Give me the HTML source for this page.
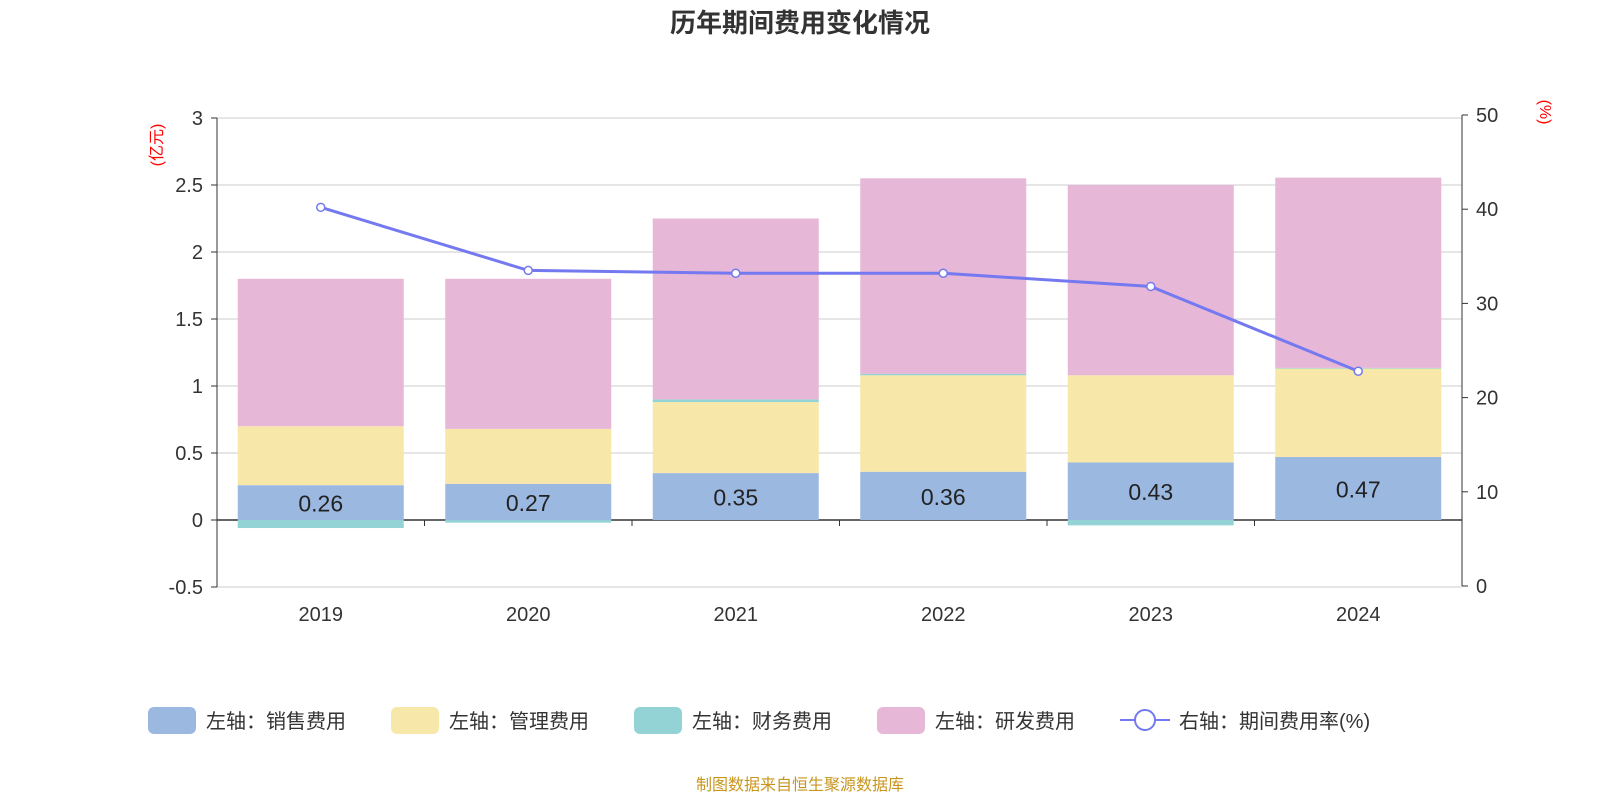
<!DOCTYPE html>
<html><head><meta charset="utf-8"><style>
body{margin:0;background:#fff;}
svg text{font-family:"Liberation Sans","Noto Sans CJK SC",sans-serif;}
</style></head><body>
<svg id="c" width="1600" height="800" xmlns="http://www.w3.org/2000/svg">
<text x="800" y="32" text-anchor="middle" font-size="26" font-weight="bold" fill="#333">历年期间费用变化情况</text>
<text transform="translate(162,145) rotate(-90)" text-anchor="middle" font-size="16" fill="red">(亿元)</text>
<text transform="translate(1540,112) rotate(90)" text-anchor="middle" font-size="16" fill="red">(%)</text>
<g id="grid"></g><g id="bars"></g><g id="axes"></g><g id="line"></g>
<g id="legend" font-size="20" fill="#333"></g>
<text x="800" y="790" text-anchor="middle" font-size="16" fill="#c8961e">制图数据来自恒生聚源数据库</text>
</svg>
<script>
const years=["2019","2020","2021","2022","2023","2024"];
const sales=[0.26,0.27,0.35,0.36,0.43,0.47];
const mgmt=[0.44,0.41,0.53,0.72,0.65,0.66];
const fin=[-0.06,-0.02,0.02,0.01,-0.04,0.005];
const rd=[1.10,1.12,1.35,1.46,1.42,1.42];
const rate=[40.2,33.5,33.2,33.2,31.8,22.8];
const leftTicks=[-0.5,0,0.5,1,1.5,2,2.5,3];
const rightTicks=[0,10,20,30,40,50];
const NS="http://www.w3.org/2000/svg";
const X0=217,X1=1462,band=(X1-X0)/6,bw=166;
const yL=v=>520-v*134;
const yR=v=>586-v*9.42;
const xc=i=>X0+band*(i+0.5);
function mk(t,a,p){const e=document.createElementNS(NS,t);for(const k in a)e.setAttribute(k,a[k]);(p||document.getElementById('c')).appendChild(e);return e;}
const G=document.getElementById('grid'),B=document.getElementById('bars'),A=document.getElementById('axes'),L=document.getElementById('line'),LG=document.getElementById('legend');
leftTicks.forEach(v=>{
 const g=mk('line',{x1:X0,x2:X1,y1:yL(v),y2:yL(v),stroke:v===0?'#333':'#ccc','stroke-width':v===0?1.5:1},G);
 
 
 const t=mk('text',{x:X0-14,y:yL(v)+7,'text-anchor':'end','font-size':20,fill:'#333'},A);t.textContent=v;
 
 
 mk('line',{x1:X0-6,x2:X0,y1:yL(v),y2:yL(v),stroke:'#333'},A);
});
mk('line',{x1:X0,x2:X0,y1:yL(3),y2:yL(-0.5),stroke:'#333'},A);
mk('line',{x1:X1,x2:X1,y1:yR(50),y2:yR(0),stroke:'#333'},A);
rightTicks.forEach(v=>{
 mk('line',{x1:X1,x2:X1+6,y1:yR(v),y2:yR(v),stroke:'#333'},A);
 const t=mk('text',{x:X1+14,y:yR(v)+7,'font-size':20,fill:'#333'},A);t.textContent=v;
 
 
});
for(let i=1;i<6;i++)mk('line',{x1:X0+band*i,x2:X0+band*i,y1:520,y2:526,stroke:'#333'},A);
const colors={s:'#9bb8e1',m:'#f7e7a8',f:'#94d3d5',r:'#e7b7d8'};
years.forEach((y,i)=>{
 const t=mk('text',{x:xc(i),y:621,'text-anchor':'middle','font-size':20,fill:'#333'},A);t.textContent=y;
 
 
 let pos=0,neg=0;
 const segs=[['s',sales[i],'bar-sales'],['m',mgmt[i],'bar-management'],['f',fin[i],'bar-finance'],['r',rd[i],'bar-rnd']];
 segs.forEach(([k,v,n])=>{
  let a,b;
  if(v>=0){a=pos;b=pos+v;pos=b;}else{a=neg;b=neg+v;neg=b;}
  const r=mk('rect',{x:xc(i)-bw/2,width:bw,y:Math.min(yL(a),yL(b)),height:Math.abs(yL(a)-yL(b)),fill:colors[k]},B);
  
  
 });
 const lb=mk('text',{x:xc(i),y:(yL(0)+yL(sales[i]))/2+9,'text-anchor':'middle','font-size':23,fill:'#222'},B);lb.textContent=sales[i].toFixed(2);
 
 
});
const pl=mk('polyline',{points:rate.map((v,i)=>xc(i)+','+yR(v)).join(' '),fill:'none',stroke:'#7479f0','stroke-width':3},L);


rate.forEach((v,i)=>{const c=mk('circle',{cx:xc(i),cy:yR(v),r:4,fill:'#fff',stroke:'#7479f0','stroke-width':1.5},L);
 
 });
const legs=[['左轴：销售费用',colors.s,148],['左轴：管理费用',colors.m,391],['左轴：财务费用',colors.f,634],['左轴：研发费用',colors.r,877]];
legs.forEach(([t,c,x])=>{
 const r=mk('rect',{x:x,y:707,width:48,height:27,rx:6,fill:c},LG);
 
 
 const tx=mk('text',{x:x+58,y:728},LG);tx.textContent=t;
 
 
});
mk('line',{x1:1120,x2:1170,y1:720,y2:720,stroke:'#7479f0','stroke-width':2},LG);
mk('circle',{cx:1145,cy:720,r:10,fill:'#fff',stroke:'#7479f0','stroke-width':2},LG);
const lt=mk('text',{x:1179,y:728},LG);lt.textContent='右轴：期间费用率(%)';


</script>
</body></html>
